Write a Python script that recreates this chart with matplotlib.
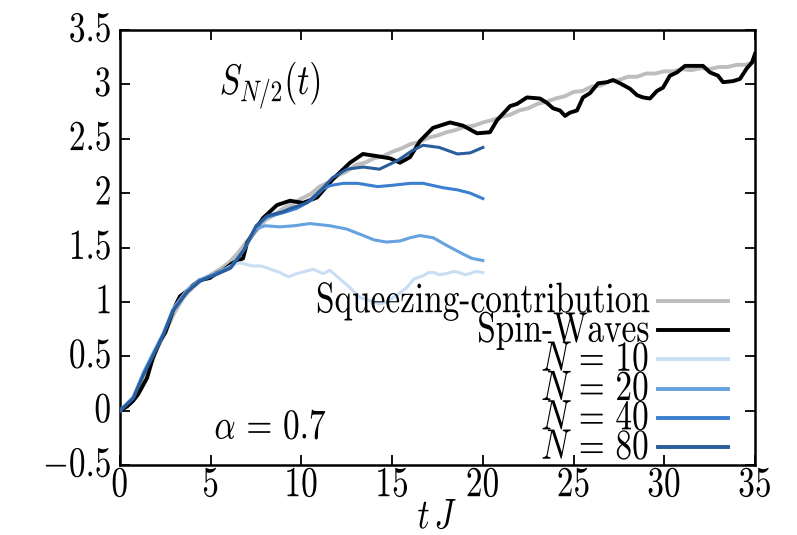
import numpy as np
import matplotlib
matplotlib.use("Agg")
import matplotlib.pyplot as plt
from matplotlib.ticker import FuncFormatter
from matplotlib import patheffects
from matplotlib.transforms import Affine2D

plt.rcParams['font.family'] = 'serif'
plt.rcParams['font.serif'] = ['cmr10']
plt.rcParams['mathtext.fontset'] = 'cm'
plt.rcParams['axes.unicode_minus'] = True

# ---------------- data ----------------
t_sq = list(np.arange(0, 35.01, 0.5))
s_sq = [0.00, 0.06, 0.17, 0.33, 0.55, 0.72, 0.90, 1.04, 1.13, 1.20,
        1.25, 1.30, 1.36, 1.45, 1.56, 1.65, 1.75, 1.80, 1.86, 1.90,
        1.95, 1.99, 2.06, 2.10, 2.16, 2.20, 2.26, 2.28, 2.32, 2.34,
        2.38, 2.41, 2.45, 2.47, 2.51, 2.53, 2.56, 2.58, 2.61, 2.62,
        2.65, 2.67, 2.70, 2.72, 2.76, 2.78, 2.82, 2.84, 2.87, 2.89,
        2.93, 2.94, 2.98, 2.99, 3.03, 3.04, 3.07, 3.07, 3.10, 3.10,
        3.12, 3.12, 3.14, 3.13, 3.15, 3.14, 3.16, 3.16, 3.18, 3.18,
        3.21]

t_sw = [0, 0.4, 0.72, 1.0, 1.49, 1.8, 2.2, 2.5, 2.92, 3.3, 3.69, 4.0, 4.41,
        4.96, 5.3, 5.68, 6.23, 6.78, 7.0, 7.33, 7.88, 8.65, 9.37, 10.09,
        10.86, 11.74, 12.68, 13.39, 14.17, 14.88, 15.43, 15.98, 16.54, 17.25,
        18.19, 18.91, 19.68, 20.39, 20.78, 21.5, 21.88, 22.43, 23.15, 23.53,
        23.87, 24.25, 24.53, 24.8, 25.19, 25.52, 25.91, 26.35, 26.84, 27.17,
        27.56, 28.11, 28.5, 28.83, 29.21, 29.6, 29.93, 30.31, 30.7, 31.14,
        31.8, 32.13, 32.52, 32.96, 33.24, 33.79, 34.17, 34.56, 34.83, 35.0]
s_sw = [0, 0.04, 0.09, 0.15, 0.30, 0.48, 0.64, 0.72, 0.92, 1.05, 1.10, 1.15, 1.20,
        1.22, 1.26, 1.29, 1.36, 1.40, 1.54, 1.63, 1.77, 1.89, 1.93, 1.91,
        1.96, 2.13, 2.28, 2.36, 2.34, 2.32, 2.28, 2.33, 2.48, 2.60,
        2.65, 2.62, 2.55, 2.56, 2.67, 2.80, 2.82, 2.88, 2.87, 2.83,
        2.78, 2.76, 2.71, 2.74, 2.76, 2.88, 2.92, 3.01, 3.02, 3.04,
        3.01, 2.96, 2.90, 2.88, 2.87, 2.94, 2.97, 3.08, 3.11, 3.17,
        3.17, 3.17, 3.11, 3.08, 3.02, 3.03, 3.05, 3.15, 3.20, 3.28]

t_n10 = [0, 0.73, 1.3, 1.84, 2.4, 2.9, 3.7, 4.4, 5.3, 6.1, 6.6, 7.3, 7.8, 8.3,
         8.8, 9.3, 9.74, 10.2, 10.65, 11.2, 11.57, 12.13, 12.68, 13.23, 13.8,
         14.3, 14.7, 15.25, 15.8, 16.2, 16.7, 17.0, 17.3, 17.6, 18.0, 18.4,
         18.7, 19.0, 19.3, 19.6, 20.0]
s_n10 = [0, 0.13, 0.36, 0.54, 0.72, 0.93, 1.11, 1.20, 1.26, 1.33, 1.36, 1.33, 1.33, 1.30,
         1.27, 1.23, 1.26, 1.28, 1.30, 1.26, 1.29, 1.21, 1.13, 1.04, 1.01,
         0.98, 1.00, 1.06, 1.13, 1.21, 1.24, 1.27, 1.27, 1.25, 1.26, 1.28,
         1.27, 1.25, 1.26, 1.28, 1.27]

t_n20 = [0, 0.73, 1.3, 1.84, 2.4, 2.9, 3.7, 4.4, 5.3, 6.1, 6.8, 7.5, 8.0, 8.82,
         9.6, 10.47, 11.57, 12.49, 13.41, 14.0, 14.69, 15.43, 16.0, 16.53,
         17.26, 18.0, 18.9, 19.4, 20.0]
s_n20 = [0, 0.12, 0.35, 0.53, 0.71, 0.92, 1.10, 1.20, 1.26, 1.32, 1.47, 1.67, 1.70, 1.69,
         1.70, 1.72, 1.70, 1.67, 1.61, 1.57, 1.55, 1.56, 1.59, 1.61,
         1.59, 1.52, 1.44, 1.40, 1.38]

t_n40 = [0, 0.73, 1.3, 1.84, 2.4, 2.9, 3.7, 4.4, 5.3, 6.1, 6.8, 7.5, 8.1, 9.0,
         9.75, 10.5, 11.2, 11.6, 12.3, 13.1, 14.2, 14.9, 16.0, 16.7, 17.8,
         18.6, 19.3, 20.0]
s_n40 = [0, 0.12, 0.34, 0.52, 0.71, 0.92, 1.10, 1.20, 1.26, 1.32, 1.47, 1.69, 1.78, 1.82,
         1.86, 1.93, 2.04, 2.07, 2.09, 2.09, 2.06, 2.07, 2.09, 2.09, 2.05,
         2.03, 2.00, 1.95]

t_n80 = [0, 0.73, 1.3, 1.84, 2.4, 2.9, 3.7, 4.4, 5.3, 6.1, 6.8, 7.5, 8.1, 9.0,
         9.4, 10.3, 11.2, 11.7, 12.5, 13.4, 14.3, 15.3, 16.1, 16.7, 17.6,
         18.6, 19.3, 20.0]
s_n80 = [0, 0.11, 0.33, 0.51, 0.70, 0.91, 1.09, 1.19, 1.25, 1.31, 1.47, 1.70, 1.79, 1.83,
         1.86, 1.91, 2.05, 2.14, 2.22, 2.24, 2.22, 2.30, 2.39, 2.44, 2.42,
         2.36, 2.37, 2.42]

labels = ['Squeezing-contribution', 'Spin-Waves',
          r'$N\,=\,10$', r'$N\,=\,20$', r'$N\,=\,40$', r'$N\,=\,80$']
colors = ['#bdbdbd', '#000000', '#c9def5', '#66a1e0', '#3a7fd0', '#2a5d9b']
x_ticks = [0, 5, 10, 15, 20, 25, 30, 35]
y_ticks = [-0.5, 0, 0.5, 1, 1.5, 2, 2.5, 3, 3.5]


class Stretch(patheffects.AbstractPathEffect):
    """Draw text glyphs stretched vertically (tall Computer-Modern look)."""
    def __init__(self, sy):
        super().__init__()
        self.sy = sy

    def draw_path(self, renderer, gc, tpath, affine, rgbFace=None):
        renderer.draw_path(gc, tpath, Affine2D().scale(1, self.sy) + affine, rgbFace)


SY = 1.28
FS = 24
stretch = [Stretch(SY)]

# ---------------- figure ----------------
fig = plt.figure(figsize=(7.97, 5.35), dpi=100)
ax = fig.add_axes([120/797, 1-465/535, 635/797, 435/535])

ax.plot(t_sq, s_sq, color=colors[0], lw=2.8, label=labels[0], zorder=2)
ax.plot(t_sw, s_sw, color=colors[1], lw=2.8, label=labels[1], zorder=3)
ax.plot(t_n10, s_n10, color=colors[2], lw=2.2, label=labels[2], zorder=4)
ax.plot(t_n20, s_n20, color=colors[3], lw=2.2, label=labels[3], zorder=4)
ax.plot(t_n40, s_n40, color=colors[4], lw=2.2, label=labels[4], zorder=4)
ax.plot(t_n80, s_n80, color=colors[5], lw=2.2, label=labels[5], zorder=4)

ax.set_xlim(0, 35)
ax.set_ylim(-0.5, 3.5)
ax.set_xticks(x_ticks)
ax.set_yticks(y_ticks)
fmt = FuncFormatter(lambda v, p: r'$%s$' % ('%g' % v))
ax.xaxis.set_major_formatter(fmt)
ax.yaxis.set_major_formatter(fmt)
ax.tick_params(direction='in', length=7, width=1.3, top=True, right=True,
               labelsize=FS)
ax.tick_params(axis='x', pad=6)
ax.tick_params(axis='y', pad=6)
for sp in ax.spines.values():
    sp.set_linewidth(1.8)

xl = ax.set_xlabel(r'$t\,J$', fontsize=FS)
xl.set_verticalalignment('baseline')
ax.xaxis.set_label_coords(0.5, -0.146)
xl.set_path_effects(stretch)

t1 = ax.text(5.5, 2.98, r'$S_{N/2}(t)$', fontsize=FS, ha='left', va='center')
t2 = ax.text(5.2, -0.18, r'$\alpha\,=\,0.7$', fontsize=FS, ha='left', va='center')
t1.set_path_effects(stretch)
t2.set_path_effects(stretch)

leg = ax.legend(loc='lower right', bbox_to_anchor=(0.957, 0.0), frameon=False,
                markerfirst=False, fontsize=FS, handlelength=2.1,
                handletextpad=0.25, labelspacing=0.0, borderpad=0.0,
                borderaxespad=0.0)
for line in leg.get_lines():
    line.set_linewidth(2.8)
for txt in leg.get_texts():
    txt.set_path_effects(stretch)

for lbl in ax.get_xticklabels() + ax.get_yticklabels():
    lbl.set_path_effects(stretch)

fig.savefig('out.png', dpi=100)
